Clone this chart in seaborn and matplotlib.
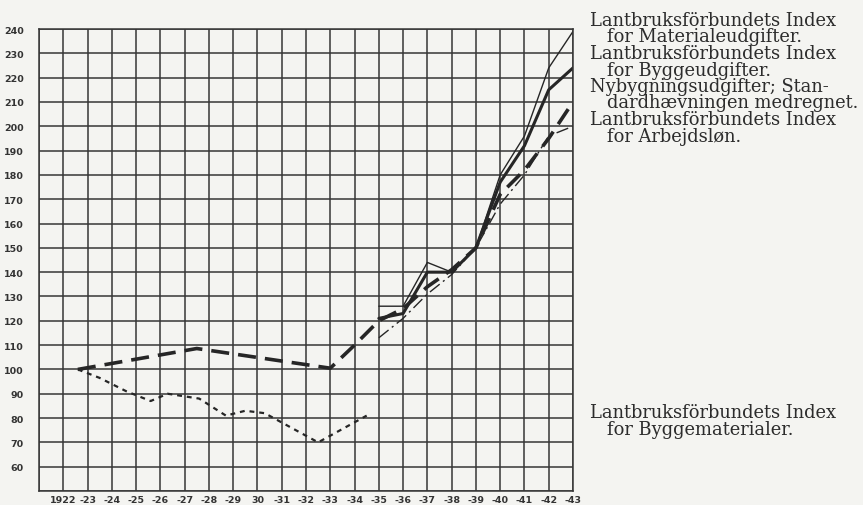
import pandas as pd
import matplotlib
matplotlib.use("Agg")
import matplotlib.pyplot as plt
import seaborn as sns

# Index values (x in years, fractional where the
# original curve is drawn between the yearly grid lines)
years_late = [1935, 1936, 1937, 1938, 1939, 1940, 1941, 1942, 1943]
materialeudgifter = [126, 126, 144, 140, 150, 180, 196, 224, 239]
byggeudgifter = [121, 123, 140, 140, 150, 177, 192, 215, 224]
arbejdslon = [113, 121, 131, 139, 150, 168, 180, 196, 200]

years_nybyg = [1922.6, 1927.5, 1933.0, 1934, 1935, 1936, 1937, 1938, 1939,
               1940, 1941, 1942, 1943]
nybygning = [100, 108.6, 100.5, 110, 120, 125, 134, 141, 150,
             172, 182, 195, 210]

years_mat = [1922.6, 1923.5, 1924.6, 1925.6, 1926.3, 1927.6, 1928.7, 1929.5,
             1930.3, 1932.5, 1934.5]
byggematerialer = [100, 96.5, 91, 87, 90, 88, 81, 83, 82, 70, 81]

tick_years = list(range(1922, 1944))
tick_labels = ["1922", "-23", "-24", "-25", "-26", "-27", "-28", "-29", "30",
               "-31", "-32", "-33", "-34", "-35", "-36", "-37", "-38", "-39",
               "-40", "-41", "-42", "-43"]
y_ticks = list(range(60, 250, 10))

labels_top = [
    ("Lantbruksförbundets Index", "for Materialeudgifter."),
    ("Lantbruksförbundets Index", "for Byggeudgifter."),
    ("Nybygningsudgifter; Stan-", "dardhævningen medregnet."),
    ("Lantbruksförbundets Index", "for Arbejdsløn."),
]
label_bottom = ("Lantbruksförbundets Index", "for Byggematerialer.")

INK = "#262626"
GRID = "#363636"
PAPER = "#f4f4f1"
TXT = "#2c2c2c"

sns.set_style("white")
plt.rcParams["font.family"] = ["DejaVu Serif"]

fig = plt.figure(figsize=(8.63, 5.06), dpi=100, facecolor=PAPER)
ax = fig.add_axes([39 / 863, 1 - 492 / 506, (573 - 39) / 863, (492 - 30) / 506])
ax.set_facecolor(PAPER)

df_late = pd.DataFrame({"year": years_late, "mat": materialeudgifter,
                        "byg": byggeudgifter, "arb": arbejdslon})
df_ny = pd.DataFrame({"year": years_nybyg, "val": nybygning})
df_bm = pd.DataFrame({"year": years_mat, "val": byggematerialer})

sns.lineplot(data=df_late, x="year", y="mat", ax=ax, color=INK, lw=1.0,
             estimator=None, sort=False)
sns.lineplot(data=df_late, x="year", y="byg", ax=ax, color=INK, lw=2.2,
             estimator=None, sort=False)
sns.lineplot(data=df_late, x="year", y="arb", ax=ax, color=INK, lw=1.0,
             estimator=None, sort=False)
ax.lines[-1].set_dashes([9, 3, 1.5, 3])
sns.lineplot(data=df_ny, x="year", y="val", ax=ax, color=INK, lw=2.6,
             estimator=None, sort=False)
ax.lines[-1].set_dashes([5, 2.5])
sns.lineplot(data=df_bm, x="year", y="val", ax=ax, color=INK, lw=1.6,
             estimator=None, sort=False)
ax.lines[-1].set_dashes([2.2, 2.2])

ax.set_xlim(1921, 1943)
ax.set_ylim(50, 240)
ax.set_xticks(tick_years)
ax.set_xticklabels(tick_labels)
ax.set_yticks(y_ticks)
ax.set_yticklabels([str(v) for v in y_ticks])
ax.set_xticks(list(range(1921, 1944)), minor=True)
ax.set_yticks(list(range(50, 241, 10)), minor=True)
ax.grid(which="both", color=GRID, lw=1.1)
ax.set_axisbelow(True)
for s in ax.spines.values():
    s.set_color(GRID)
    s.set_linewidth(1.1)
ax.tick_params(axis="x", which="both", length=2.5, color=GRID, pad=0.5,
               labelsize=6.8, labelcolor="#333333")
ax.tick_params(axis="y", which="both", length=0, pad=11,
               labelsize=6.8, labelcolor="#333333")
for t in ax.get_xticklabels() + ax.get_yticklabels():
    t.set_family(["DejaVu Sans"])
    t.set_fontweight("bold")
ax.set_xlabel("")
ax.set_ylabel("")

# right-hand labels
FS = 12.9
y0 = 21
for first, second in labels_top:
    fig.text(590 / 863, 1 - y0 / 506, first, fontsize=FS, color=TXT,
             va="center", ha="left")
    fig.text(607 / 863, 1 - (y0 + 16.5) / 506, second, fontsize=FS,
             color=TXT, va="center", ha="left")
    y0 += 33
fig.text(590 / 863, 1 - 413 / 506, label_bottom[0], fontsize=FS,
         color=TXT, va="center", ha="left")
fig.text(607 / 863, 1 - 430 / 506, label_bottom[1], fontsize=FS,
         color=TXT, va="center", ha="left")

fig.savefig("out.png", dpi=100, facecolor=PAPER)
